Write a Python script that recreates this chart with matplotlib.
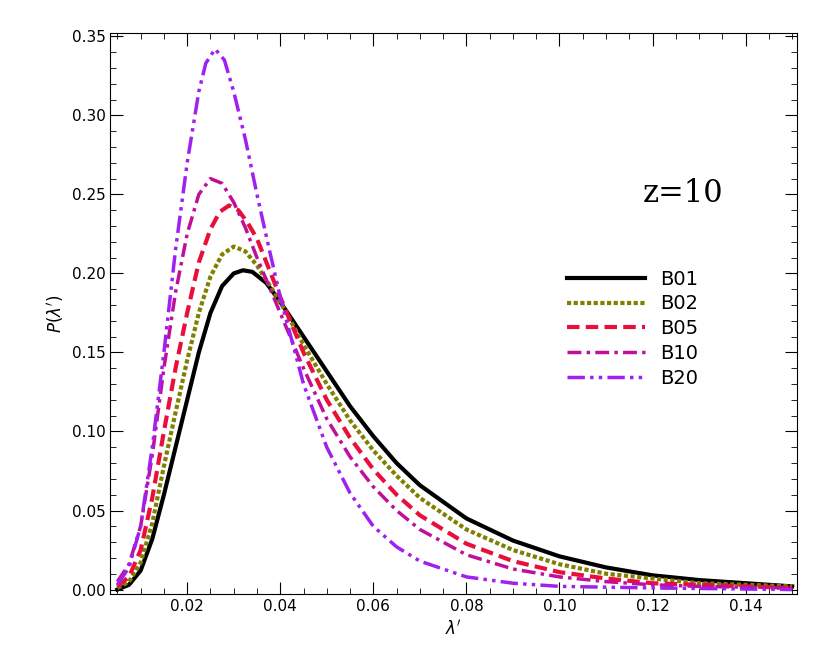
import matplotlib.pyplot as plt
from matplotlib.ticker import MultipleLocator

# values
x01 = [0.005, 0.0075, 0.01, 0.0125, 0.015, 0.0175, 0.02, 0.0225, 0.025, 0.0275, 0.03, 0.032, 0.034, 0.037, 0.04, 0.045, 0.05, 0.055, 0.06, 0.065, 0.07, 0.08, 0.09, 0.10, 0.11, 0.12, 0.13, 0.14, 0.15]
b01 = [0.0, 0.003, 0.012, 0.032, 0.060, 0.090, 0.120, 0.150, 0.175, 0.192, 0.200, 0.202, 0.201, 0.194, 0.182, 0.160, 0.138, 0.116, 0.097, 0.080, 0.066, 0.045, 0.031, 0.021, 0.014, 0.009, 0.006, 0.004, 0.002]
x02 = [0.005, 0.0075, 0.01, 0.0125, 0.015, 0.0175, 0.02, 0.0225, 0.025, 0.0275, 0.03, 0.0325, 0.035, 0.04, 0.045, 0.05, 0.055, 0.06, 0.065, 0.07, 0.08, 0.09, 0.10, 0.11, 0.12, 0.13, 0.14, 0.15]
b02 = [0.001, 0.005, 0.017, 0.042, 0.078, 0.112, 0.145, 0.175, 0.198, 0.212, 0.217, 0.214, 0.205, 0.182, 0.155, 0.130, 0.107, 0.088, 0.072, 0.058, 0.038, 0.025, 0.016, 0.010, 0.007, 0.004, 0.003, 0.002]
x05 = [0.005, 0.0075, 0.01, 0.0125, 0.015, 0.0175, 0.02, 0.0225, 0.025, 0.027, 0.029, 0.031, 0.033, 0.035, 0.04, 0.045, 0.05, 0.055, 0.06, 0.065, 0.07, 0.08, 0.09, 0.10, 0.11, 0.12, 0.13, 0.14, 0.15]
b05 = [0.002, 0.008, 0.025, 0.058, 0.100, 0.140, 0.175, 0.207, 0.228, 0.239, 0.243, 0.240, 0.232, 0.222, 0.185, 0.150, 0.120, 0.096, 0.076, 0.060, 0.047, 0.029, 0.018, 0.011, 0.007, 0.004, 0.003, 0.002, 0.001]
x10 = [0.005, 0.0075, 0.01, 0.0125, 0.015, 0.0175, 0.02, 0.0225, 0.025, 0.0275, 0.03, 0.0325, 0.035, 0.04, 0.045, 0.05, 0.055, 0.06, 0.065, 0.07, 0.08, 0.09, 0.10, 0.11, 0.12, 0.13, 0.15]
b10 = [0.005, 0.016, 0.040, 0.085, 0.140, 0.188, 0.225, 0.250, 0.260, 0.257, 0.245, 0.229, 0.210, 0.175, 0.140, 0.108, 0.084, 0.065, 0.050, 0.038, 0.022, 0.013, 0.008, 0.005, 0.003, 0.002, 0.001]
x20 = [0.005, 0.0075, 0.01, 0.0125, 0.015, 0.0175, 0.02, 0.0225, 0.024, 0.026, 0.028, 0.03, 0.0325, 0.035, 0.0375, 0.04, 0.045, 0.05, 0.055, 0.06, 0.065, 0.07, 0.08, 0.09, 0.10, 0.12, 0.15]
b20 = [0.003, 0.014, 0.040, 0.090, 0.150, 0.215, 0.270, 0.315, 0.333, 0.342, 0.335, 0.315, 0.285, 0.250, 0.217, 0.185, 0.130, 0.090, 0.061, 0.040, 0.027, 0.018, 0.008, 0.004, 0.002, 0.001, 0.0]

fig = plt.figure(figsize=(8.3, 6.64), dpi=100)
ax = fig.add_axes([0.133, 0.105, 0.827, 0.845])

ax.plot(x01, b01, color="black", lw=3, ls="-", label="B01")
ax.plot(x02, b02, color="#808000", lw=3, ls=(0, (1, 0.6)), label="B02")
ax.plot(x05, b05, color="#e8103a", lw=3, ls=(0, (3, 1.5)), label="B05")
ax.plot(x10, b10, color="#c0109a", lw=2.5, ls=(0, (4, 1.5, 1, 1.5)), label="B10")
ax.plot(x20, b20, color="#a020f0", lw=2.5, ls=(0, (5, 1.5, 1, 1.5, 1, 1.5)), label="B20")

ax.set_xlim(0.0035, 0.151)
ax.set_ylim(-0.003, 0.352)
ax.xaxis.set_major_locator(MultipleLocator(0.02))
ax.xaxis.set_minor_locator(MultipleLocator(0.005))
ax.yaxis.set_major_locator(MultipleLocator(0.05))
ax.yaxis.set_minor_locator(MultipleLocator(0.01))
ax.xaxis.set_major_formatter(plt.FormatStrFormatter("%.2f"))
ax.yaxis.set_major_formatter(plt.FormatStrFormatter("%.2f"))
ax.tick_params(which="both", direction="in", top=True, right=True, labelsize=11)
ax.tick_params(which="major", length=9)
ax.tick_params(which="minor", length=4)
for s in ax.spines.values():
    s.set_linewidth(0.8)

ax.set_xlabel(r"$\lambda'$", fontsize=12)
ax.set_ylabel(r"$P(\lambda')$", fontsize=12)
ax.text(0.775, 0.70, "z=10", transform=ax.transAxes, fontsize=22, family="DejaVu Serif")
ax.legend(loc="upper left", bbox_to_anchor=(0.64, 0.61), frameon=False,
          fontsize=14, handlelength=4, labelspacing=0.3)

fig.savefig("out.png", dpi=100)
